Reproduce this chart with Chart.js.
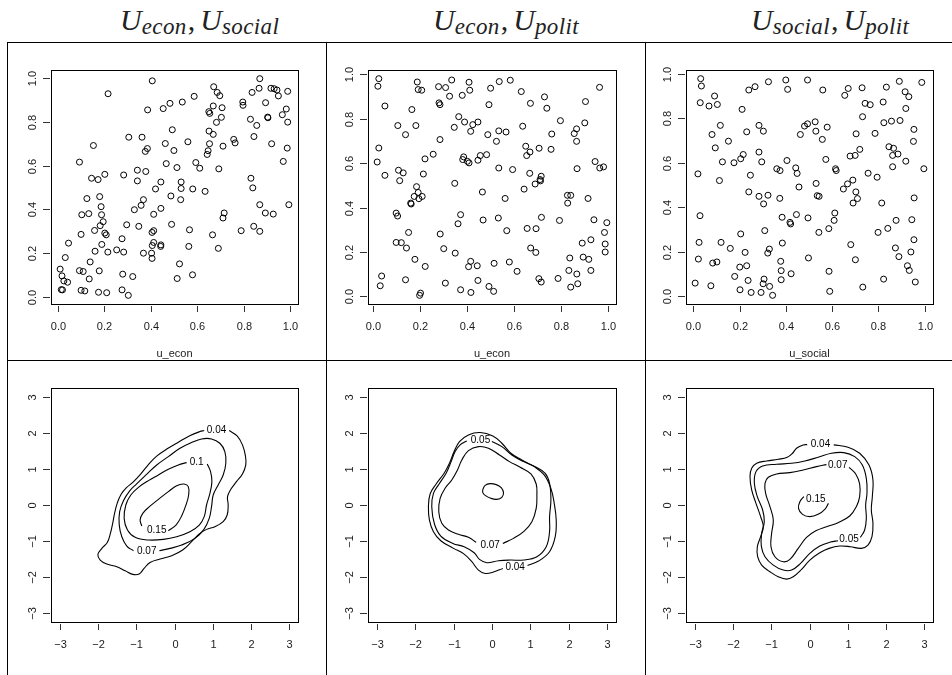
<!DOCTYPE html>
<html>
<head>
<meta charset="utf-8">
<script src="https://cdn.jsdelivr.net/npm/chart.js@4.4.1/dist/chart.umd.min.js"></script>
<style>
  body { margin: 0; width: 952px; height: 675px; background: #fff; position: relative; overflow: hidden; }
  .rule { position: absolute; background: #000; z-index: 2; }
  .head { position: absolute; top: 5px; font-family: "Liberation Serif", "DejaVu Serif", serif; font-style: italic;
          font-size: 30px; line-height: 30px; white-space: nowrap; color: #222; }
  .head .sub { font-size: 23px; letter-spacing: 0.4px; position: relative; top: 4px; }
  .head .comma { font-style: normal; margin: 0 5px 0 1px; }
  canvas { position: absolute; }
</style>
</head>
<body>
<div class="rule" style="left:7px;top:42px;width:945px;height:1px"></div>
<div class="rule" style="left:7px;top:360px;width:945px;height:1px"></div>
<div class="rule" style="left:7px;top:42px;width:1px;height:633px"></div>
<div class="rule" style="left:326px;top:42px;width:1px;height:633px"></div>
<div class="rule" style="left:645px;top:42px;width:1px;height:633px"></div>

<div class="head" style="left:120px">U<span class="sub">econ</span><span class="comma">,</span>U<span class="sub">social</span></div>
<div class="head" style="left:433px">U<span class="sub">econ</span><span class="comma">,</span>U<span class="sub">polit</span></div>
<div class="head" style="left:751px">U<span class="sub">social</span><span class="comma">,</span>U<span class="sub">polit</span></div>

<canvas id="c1"></canvas>
<canvas id="c2"></canvas>
<canvas id="c3"></canvas>
<canvas id="c4"></canvas>
<canvas id="c5"></canvas>
<canvas id="c6"></canvas>

<script>
// ---- uniform margins (copula scale) ----
const esEcon = [0.407,0.217,0.869,0.671,0.686,0.697,0.587,0.866,0.836,0.917,0.931,0.943,0.949,0.989,0.894,0.796,0.797,0.536,0.483,0.454,
  0.387,0.669,0.707,0.650,0.654,0.983,0.966,0.704,0.903,0.904,0.829,0.683,0.989,0.856,0.493,0.651,0.669,0.306,0.363,0.844,
  0.757,0.763,0.920,0.560,0.463,0.154,0.653,0.711,0.987,0.386,0.500,0.647,0.377,0.643,0.094,0.970,0.594,0.611,0.693,0.467,
  0.513,0.343,0.379,0.284,0.203,0.146,0.174,0.343,0.444,0.531,0.831,0.839,0.531,0.581,0.421,0.634,0.126,0.181,0.487,0.369,
  0.529,0.359,0.869,0.994,0.187,0.330,0.444,0.104,0.134,0.189,0.413,0.716,0.711,0.893,0.927,0.196,0.183,0.297,0.349,0.490,
  0.843,0.203,0.209,0.159,0.101,0.406,0.413,0.567,0.666,0.789,0.869,0.277,0.047,0.413,0.407,0.443,0.444,0.190,0.564,0.691,
  0.254,0.284,0.216,0.161,0.369,0.404,0.406,0.033,0.140,0.524,0.011,0.094,0.110,0.179,0.019,0.027,0.043,0.280,0.323,0.580,
  0.136,0.514,0.016,0.021,0.101,0.117,0.176,0.211,0.277,0.304];
const esSocial = [0.988,0.929,0.998,0.961,0.935,0.920,0.917,0.954,0.935,0.954,0.952,0.946,0.919,0.940,0.888,0.891,0.876,0.891,0.885,0.861,
  0.855,0.873,0.865,0.847,0.839,0.859,0.833,0.821,0.822,0.819,0.812,0.798,0.799,0.784,0.764,0.758,0.743,0.730,0.730,0.733,
  0.720,0.704,0.700,0.709,0.701,0.692,0.700,0.689,0.680,0.678,0.669,0.668,0.665,0.651,0.616,0.619,0.614,0.588,0.585,0.609,
  0.591,0.579,0.573,0.557,0.560,0.542,0.536,0.530,0.525,0.525,0.542,0.498,0.495,0.493,0.493,0.482,0.449,0.458,0.461,0.444,
  0.444,0.418,0.421,0.421,0.412,0.398,0.404,0.375,0.380,0.375,0.377,0.383,0.360,0.383,0.378,0.343,0.325,0.329,0.322,0.331,
  0.322,0.291,0.283,0.303,0.285,0.294,0.302,0.306,0.283,0.302,0.299,0.265,0.245,0.248,0.234,0.230,0.237,0.239,0.230,0.221,
  0.214,0.204,0.204,0.208,0.199,0.199,0.175,0.179,0.159,0.150,0.126,0.119,0.115,0.118,0.095,0.072,0.066,0.103,0.092,0.100,
  0.081,0.083,0.032,0.031,0.029,0.026,0.020,0.018,0.031,0.006];

const epEcon = [0.024,0.020,0.188,0.192,0.207,0.279,0.309,0.335,0.326,0.409,0.412,0.380,0.501,0.538,0.585,0.632,0.494,0.281,0.285,0.050,
  0.671,0.731,0.741,0.906,0.966,0.165,0.365,0.390,0.425,0.447,0.105,0.182,0.346,0.416,0.536,0.567,0.638,0.799,0.903,0.868,
  0.858,0.868,0.762,0.489,0.526,0.138,0.285,0.651,0.708,0.759,0.024,0.256,0.221,0.017,0.386,0.382,0.402,0.409,0.447,0.457,
  0.484,0.655,0.669,0.536,0.595,0.947,0.967,0.983,0.870,0.050,0.108,0.128,0.113,0.214,0.348,0.668,0.717,0.712,0.714,0.691,
  0.185,0.192,0.175,0.209,0.195,0.160,0.162,0.466,0.563,0.644,0.829,0.843,0.830,0.917,0.098,0.104,0.373,0.362,0.469,0.534,
  0.718,0.795,0.942,0.997,0.151,0.286,0.570,0.657,0.695,0.987,0.098,0.120,0.142,0.301,0.350,0.672,0.694,0.892,0.929,0.990,
  0.990,0.178,0.222,0.407,0.416,0.444,0.516,0.581,0.614,0.839,0.896,0.920,0.835,0.869,0.929,0.036,0.030,0.138,0.308,0.447,
  0.707,0.717,0.789,0.843,0.873,0.373,0.417,0.494,0.514,0.202,0.198];
const epPolit = [0.980,0.946,0.965,0.931,0.928,0.944,0.940,0.974,0.901,0.964,0.928,0.905,0.937,0.967,0.973,0.922,0.863,0.871,0.863,0.857,
  0.869,0.898,0.847,0.877,0.941,0.841,0.809,0.785,0.773,0.785,0.769,0.769,0.761,0.743,0.745,0.740,0.766,0.791,0.781,0.754,
  0.733,0.698,0.731,0.728,0.698,0.728,0.706,0.676,0.667,0.662,0.668,0.640,0.619,0.605,0.628,0.616,0.608,0.601,0.613,0.634,
  0.638,0.634,0.650,0.578,0.571,0.607,0.578,0.583,0.575,0.545,0.568,0.556,0.521,0.551,0.509,0.554,0.541,0.526,0.520,0.506,
  0.494,0.468,0.450,0.450,0.440,0.420,0.416,0.470,0.441,0.483,0.455,0.455,0.420,0.441,0.375,0.362,0.368,0.327,0.344,0.353,
  0.356,0.342,0.345,0.332,0.288,0.281,0.296,0.306,0.305,0.288,0.243,0.242,0.218,0.215,0.195,0.218,0.198,0.240,0.255,0.236,
  0.200,0.167,0.135,0.134,0.158,0.138,0.149,0.155,0.113,0.173,0.177,0.167,0.117,0.101,0.117,0.092,0.048,0.075,0.060,0.072,
  0.080,0.065,0.081,0.042,0.057,0.030,0.018,0.045,0.023,0.015,0.005];

const spSocial = [0.032,0.035,0.030,0.068,0.092,0.104,0.081,0.117,0.095,0.152,0.126,0.113,0.020,0.029,0.025,0.022,0.008,0.076,0.084,0.102,
  0.120,0.160,0.179,0.201,0.202,0.205,0.224,0.231,0.237,0.250,0.293,0.302,0.306,0.330,0.343,0.322,0.329,0.309,0.284,0.323,
  0.304,0.240,0.247,0.296,0.284,0.231,0.284,0.303,0.211,0.176,0.205,0.216,0.240,0.267,0.325,0.400,0.408,0.494,0.560,0.361,
  0.375,0.405,0.374,0.384,0.385,0.378,0.380,0.380,0.423,0.418,0.421,0.446,0.443,0.449,0.457,0.463,0.481,0.494,0.527,0.530,
  0.558,0.531,0.536,0.544,0.496,0.543,0.498,0.573,0.579,0.615,0.618,0.612,0.609,0.586,0.587,0.590,0.649,0.667,0.690,0.703,
  0.710,0.691,0.678,0.700,0.720,0.704,0.655,0.670,0.730,0.732,0.743,0.765,0.756,0.681,0.701,0.733,0.786,0.795,0.799,0.815,
  0.821,0.835,0.824,0.841,0.857,0.846,0.866,0.862,0.885,0.862,0.894,0.891,0.916,0.932,0.919,0.919,0.954,0.952,0.955,0.877,
  0.874,0.889,0.945,0.954,0.941,0.926,0.934,0.960,0.823,0.988,0.997];
const spPolit = [0.979,0.946,0.871,0.856,0.901,0.863,0.728,0.769,0.668,0.698,0.605,0.521,0.551,0.363,0.243,0.168,0.060,0.048,0.150,0.155,
  0.243,0.216,0.090,0.132,0.030,0.281,0.198,0.138,0.072,0.018,0.018,0.057,0.078,0.045,0.005,0.195,0.213,0.296,0.450,0.455,
  0.416,0.470,0.545,0.605,0.649,0.740,0.769,0.743,0.841,0.601,0.619,0.638,0.928,0.943,0.965,0.973,0.931,0.973,0.928,0.574,
  0.566,0.611,0.441,0.356,0.240,0.158,0.116,0.075,0.102,0.333,0.326,0.368,0.578,0.553,0.492,0.728,0.766,0.776,0.785,0.743,
  0.706,0.508,0.453,0.450,0.353,0.288,0.173,0.616,0.761,0.574,0.566,0.375,0.342,0.305,0.113,0.023,0.483,0.506,0.523,0.470,
  0.440,0.420,0.631,0.634,0.661,0.731,0.904,0.935,0.938,0.808,0.868,0.862,0.554,0.233,0.165,0.042,0.733,0.536,0.288,0.420,
  0.874,0.941,0.781,0.306,0.788,0.673,0.666,0.634,0.640,0.583,0.791,0.967,0.920,0.898,0.845,0.608,0.751,0.697,0.443,0.342,
  0.218,0.179,0.345,0.255,0.200,0.138,0.117,0.065,0.078,0.962,0.574];

// ---- density contours on the normal scale ----
const es04 = [[1.434,2.061],[1.643,1.913],[1.783,1.664],[1.861,1.359],[1.870,1.109],[1.783,0.860],[1.626,0.647],[1.478,0.434],
  [1.391,0.231],[1.408,0],[1.382,-0.277],[1.277,-0.462],[1.059,-0.601],[0.841,-0.675],[0.650,-0.804],[0.449,-1.017],[0.214,-1.248],
  [-0.074,-1.405],[-0.379,-1.497],[-0.641,-1.590],[-0.798,-1.756],[-0.929,-1.913],[-1.094,-1.922],[-1.295,-1.821],[-1.513,-1.710],
  [-1.774,-1.636],[-1.949,-1.525],[-2.010,-1.368],[-1.905,-1.201],[-1.760,-1.030],[-1.680,-0.780],[-1.620,-0.500],[-1.570,-0.220],
  [-1.500,0.060],[-1.400,0.300],[-1.260,0.480],[-1.080,0.640],[-0.900,0.840],[-0.700,1.100],[-0.460,1.360],[-0.170,1.570],
  [0.100,1.740],[0.400,1.920],[0.667,2.033],[0.780,2.061]];
const es07 = [[-0.397,-1.266],[-0.118,-1.201],[0.187,-1.109],[0.536,-0.924],[0.772,-0.675],[0.911,-0.370],[0.972,-0.046],[1.016,0.277],
  [1.146,0.555],[1.277,0.832],[1.347,1.155],[1.321,1.479],[1.190,1.710],[0.972,1.830],[0.711,1.830],[0.449,1.728],[0.144,1.571],
  [-0.161,1.340],[-0.466,1.109],[-0.740,0.840],[-1.000,0.580],[-1.170,0.400],[-1.340,0.120],[-1.440,-0.190],[-1.450,-0.550],
  [-1.382,-0.878],[-1.251,-1.137],[-1.077,-1.266]];
const es10 = [[0.859,1.137],[0.946,0.924],[0.981,0.647],[0.929,0.323],[0.841,0],[0.780,-0.323],[0.650,-0.555],[0.405,-0.739],
  [0.057,-0.878],[-0.292,-0.952],[-0.684,-0.970],[-1.033,-0.896],[-1.234,-0.693],[-1.321,-0.370],[-1.277,0],[-1.146,0.277],
  [-0.946,0.490],[-0.684,0.675],[-0.423,0.832],[-0.161,0.989],[0.100,1.109],[0.318,1.174]];
const es15 = [[-0.161,-0.712],[0.039,-0.555],[0.187,-0.305],[0.301,0],[0.371,0.277],[0.362,0.508],[0.248,0.582],[0.057,0.536],
  [-0.161,0.370],[-0.423,0.157],[-0.658,-0.046],[-0.833,-0.231],[-0.902,-0.416],[-0.859,-0.582]];
const esLabels = [[1.103,2.08,'0.04'],[0.58,1.174,'0.1'],[-0.466,-0.693,'0.15'],[-0.728,-1.275,'0.07']];

const ep04 = [[0.929,-1.673],[1.216,-1.553],[1.504,-1.294],[1.652,-0.878],[1.678,-0.416],[1.626,0.046],[1.539,0.462],[1.364,0.832],
  [1.103,1.063],[0.780,1.248],[0.493,1.433],[0.257,1.710],[0.022,1.913],[-0.310,2.006],[-0.615,1.941],[-0.850,1.756],[-0.990,1.479],
  [-1.112,1.155],[-1.251,0.878],[-1.460,0.582],[-1.617,0.305],[-1.661,-0.046],[-1.635,-0.416],[-1.530,-0.739],[-1.338,-0.989],
  [-1.007,-1.201],[-0.728,-1.359],[-0.527,-1.571],[-0.353,-1.802],[-0.179,-1.895],[0.039,-1.858],[0.283,-1.756]];
const ep05 = [[-0.004,1.756],[0.257,1.617],[0.519,1.386],[0.824,1.201],[1.155,1.044],[1.391,0.878],[1.504,0.601],[1.539,0.139],
  [1.504,-0.323],[1.504,-0.739],[1.417,-1.155],[1.173,-1.433],[0.824,-1.525],[0.475,-1.525],[0.170,-1.543],[-0.135,-1.599],
  [-0.327,-1.506],[-0.466,-1.322],[-0.728,-1.155],[-1.024,-1.063],[-1.338,-0.860],[-1.504,-0.527],[-1.574,-0.046],[-1.530,0.323],
  [-1.382,0.582],[-1.199,0.878],[-1.068,1.201],[-0.963,1.479],[-0.833,1.664],[-0.658,1.775]];
const ep07 = [[0.283,-1.063],[0.562,-0.924],[0.841,-0.721],[1.042,-0.462],[1.155,-0.092],[1.173,0.277],[1.155,0.582],[1.016,0.860],
  [0.737,1.044],[0.458,1.201],[0.196,1.386],[-0.092,1.571],[-0.353,1.617],[-0.615,1.506],[-0.789,1.248],[-0.902,0.970],
  [-1.051,0.693],[-1.225,0.462],[-1.356,0.185],[-1.391,-0.185],[-1.312,-0.508],[-1.138,-0.693],[-0.876,-0.813],[-0.615,-0.896],
  [-0.414,-1.035]];
const ep10 = [[-0.240,0.434],[-0.179,0.545],[-0.048,0.592],[0.109,0.564],[0.240,0.481],[0.301,0.342],[0.257,0.213],[0.126,0.157],
  [-0.031,0.185],[-0.170,0.259],[-0.240,0.342],[-0.240,0.434]];
const epLabels = [[-0.301,1.802,'0.05'],[-0.048,-1.109,'0.07'],[0.606,-1.728,'0.04']];

const sp04 = [[0.636,1.664],[1.011,1.599],[1.316,1.433],[1.561,1.109],[1.665,0.693],[1.648,0.231],[1.622,-0.139],[1.665,-0.508],
  [1.639,-0.878],[1.534,-1.109],[1.360,-1.201],[1.072,-1.155],[0.793,-1.137],[0.514,-1.201],[0.270,-1.322],[0.009,-1.525],
  [-0.209,-1.784],[-0.427,-1.987],[-0.602,-2.052],[-0.820,-1.987],[-1.037,-1.848],[-1.255,-1.664],[-1.360,-1.433],[-1.369,-1.155],
  [-1.282,-0.878],[-1.212,-0.601],[-1.282,-0.323],[-1.404,0.046],[-1.517,0.416],[-1.561,0.786],[-1.517,1.017],[-1.386,1.155],
  [-1.125,1.220],[-0.820,1.266],[-0.584,1.322],[-0.445,1.433],[-0.340,1.571],[-0.166,1.664],[-0.061,1.673]];
const sp05 = [[1.334,-0.896],[1.447,-0.693],[1.491,-0.370],[1.473,0],[1.508,0.323],[1.491,0.739],[1.386,1.109],[1.186,1.340],
  [0.898,1.451],[0.575,1.433],[0.227,1.322],[-0.122,1.220],[-0.471,1.155],[-0.863,1.128],[-1.229,1.081],[-1.404,0.924],
  [-1.447,0.601],[-1.369,0.231],[-1.229,-0.139],[-1.186,-0.462],[-1.255,-0.786],[-1.264,-1.137],[-1.168,-1.433],[-0.950,-1.664],
  [-0.689,-1.802],[-0.471,-1.802],[-0.235,-1.617],[0.009,-1.340],[0.270,-1.137],[0.549,-1.026],[0.750,-0.989]];
const sp07 = [[1.037,1.044],[1.212,0.860],[1.316,0.582],[1.316,0.231],[1.229,-0.046],[1.055,-0.305],[0.750,-0.490],[0.445,-0.601],
  [0.166,-0.712],[-0.078,-0.896],[-0.296,-1.201],[-0.514,-1.506],[-0.689,-1.571],[-0.907,-1.433],[-1.011,-1.155],[-0.994,-0.786],
  [-0.950,-0.416],[-1.037,-0.046],[-1.151,0.323],[-1.168,0.601],[-1.081,0.767],[-0.863,0.860],[-0.514,0.896],[-0.166,0.970],
  [0.183,1.063],[0.445,1.118]];
const sp15 = [[-0.148,0.231],[-0.253,0.092],[-0.288,-0.092],[-0.183,-0.259],[0.009,-0.323],[0.227,-0.259],[0.401,-0.120],[0.497,0.046]];
const spLabels = [[0.288,1.682,'0.04'],[0.741,1.109,'0.07'],[0.166,0.157,'0.15'],[1.037,-0.943,'0.05']];

// ---- axis ticks ----
const unitTicks = [0, 0.2, 0.4, 0.6, 0.8, 1.0];
const unitTickLabels = ['0.0', '0.2', '0.4', '0.6', '0.8', '1.0'];
const normTicks = [-3, -2, -1, 0, 1, 2, 3];
const normTickLabels = ['\u22123', '\u22122', '\u22121', '0', '1', '2', '3'];
const normLim = [-3.24, 3.24];

// panel boxes on the page: [left, right] per column, [top, bottom] per row
const colBox = [[51, 298], [368, 616], [686, 933]];
const rowBox = [[70, 304], [388, 622]];
const PAD = { left: 45, top: 27, right: 12, bottom: 55 };

const FONT = '"Liberation Sans", Arial, sans-serif';

// base-graphics look: full box, outward ticks, rotated y labels
const rAxes = {
  id: 'rAxes',
  afterDraw(chart, args, opts) {
    const { ctx, chartArea: a, scales: { x, y } } = chart;
    ctx.save();
    ctx.strokeStyle = '#000';
    ctx.lineWidth = 1;
    ctx.strokeRect(Math.round(a.left) + 0.5, Math.round(a.top) + 0.5,
                   Math.round(a.right - a.left), Math.round(a.bottom - a.top));
    ctx.font = '11px ' + FONT;
    ctx.fillStyle = '#1a1a1a';
    ctx.strokeStyle = '#333';
    ctx.textAlign = 'center';
    ctx.textBaseline = 'alphabetic';
    opts.xTicks.forEach((v, i) => {
      const px = Math.round(x.getPixelForValue(v)) + 0.5;
      ctx.beginPath(); ctx.moveTo(px, a.bottom + 2); ctx.lineTo(px, a.bottom + 8); ctx.stroke();
      ctx.fillText(opts.xLabels[i], px, a.bottom + 26);
    });
    opts.yTicks.forEach((v, i) => {
      const py = Math.round(y.getPixelForValue(v)) + 0.5;
      ctx.beginPath(); ctx.moveTo(a.left - 8, py); ctx.lineTo(a.left - 1, py); ctx.stroke();
      ctx.save();
      ctx.translate(a.left - 15, py);
      ctx.rotate(-Math.PI / 2);
      ctx.fillText(opts.yLabels[i], 0, 0);
      ctx.restore();
    });
    if (opts.xTitle) ctx.fillText(opts.xTitle, (a.left + a.right) / 2, a.bottom + 53);
    ctx.font = '10px ' + FONT;
    ctx.fillStyle = '#000';
    ctx.textBaseline = 'middle';
    (opts.labels || []).forEach(([vx, vy, t]) => {
      ctx.fillText(t, x.getPixelForValue(vx), y.getPixelForValue(vy));
    });
    ctx.restore();
  }
};

function padRange(vals) {
  const lo = Math.min(...vals), hi = Math.max(...vals);
  const d = (hi - lo) * 0.04;
  return [lo - d, hi + d];
}

function place(id, col, row) {
  const cv = document.getElementById(id);
  const [l, r] = colBox[col], [t, b] = rowBox[row];
  cv.width = PAD.left + (r - l) + PAD.right;
  cv.height = PAD.top + (b - t) + PAD.bottom;
  cv.style.left = (l - PAD.left) + 'px';
  cv.style.top = (t - PAD.top) + 'px';
  return cv.getContext('2d');
}

function baseOptions(xLim, yLim, axes) {
  return {
    responsive: false,
    animation: false,
    events: [],
    layout: { padding: PAD },
    scales: {
      x: { type: 'linear', min: xLim[0], max: xLim[1], display: false },
      y: { type: 'linear', min: yLim[0], max: yLim[1], display: false }
    },
    plugins: { legend: { display: false }, tooltip: { enabled: false }, rAxes: axes }
  };
}

function scatterPanel(id, col, xs, ys, title) {
  const ctx = place(id, col, 0);
  new Chart(ctx, {
    type: 'scatter',
    data: {
      datasets: [{
        data: xs.map((v, i) => ({ x: v, y: ys[i] })),
        pointStyle: 'circle',
        pointRadius: 3,
        pointBorderWidth: 1,
        pointBorderColor: '#000',
        pointBackgroundColor: 'rgba(0,0,0,0)'
      }]
    },
    options: baseOptions(padRange(xs), padRange(ys), {
      xTicks: unitTicks, xLabels: unitTickLabels,
      yTicks: unitTicks, yLabels: unitTickLabels, xTitle: title
    }),
    plugins: [rAxes]
  });
}

function contourPanel(id, col, lines, labels) {
  const ctx = place(id, col, 1);
  new Chart(ctx, {
    type: 'scatter',
    data: {
      datasets: lines.map(pts => ({
        data: pts.map(([x, y]) => ({ x, y })),
        showLine: true,
        tension: 0.4,
        pointRadius: 0,
        borderColor: '#000',
        borderWidth: 1.1,
        fill: false
      }))
    },
    options: baseOptions(normLim, normLim, {
      xTicks: normTicks, xLabels: normTickLabels,
      yTicks: normTicks, yLabels: normTickLabels, labels
    }),
    plugins: [rAxes]
  });
}

scatterPanel('c1', 0, esEcon, esSocial, 'u_econ');
scatterPanel('c2', 1, epEcon, epPolit, 'u_econ');
scatterPanel('c3', 2, spSocial, spPolit, 'u_social');

contourPanel('c4', 0, [es04, es07, es10, es15], esLabels);
contourPanel('c5', 1, [ep04, ep05, ep07, ep10], epLabels);
contourPanel('c6', 2, [sp04, sp05, sp07, sp15], spLabels);
</script>
</body>
</html>
